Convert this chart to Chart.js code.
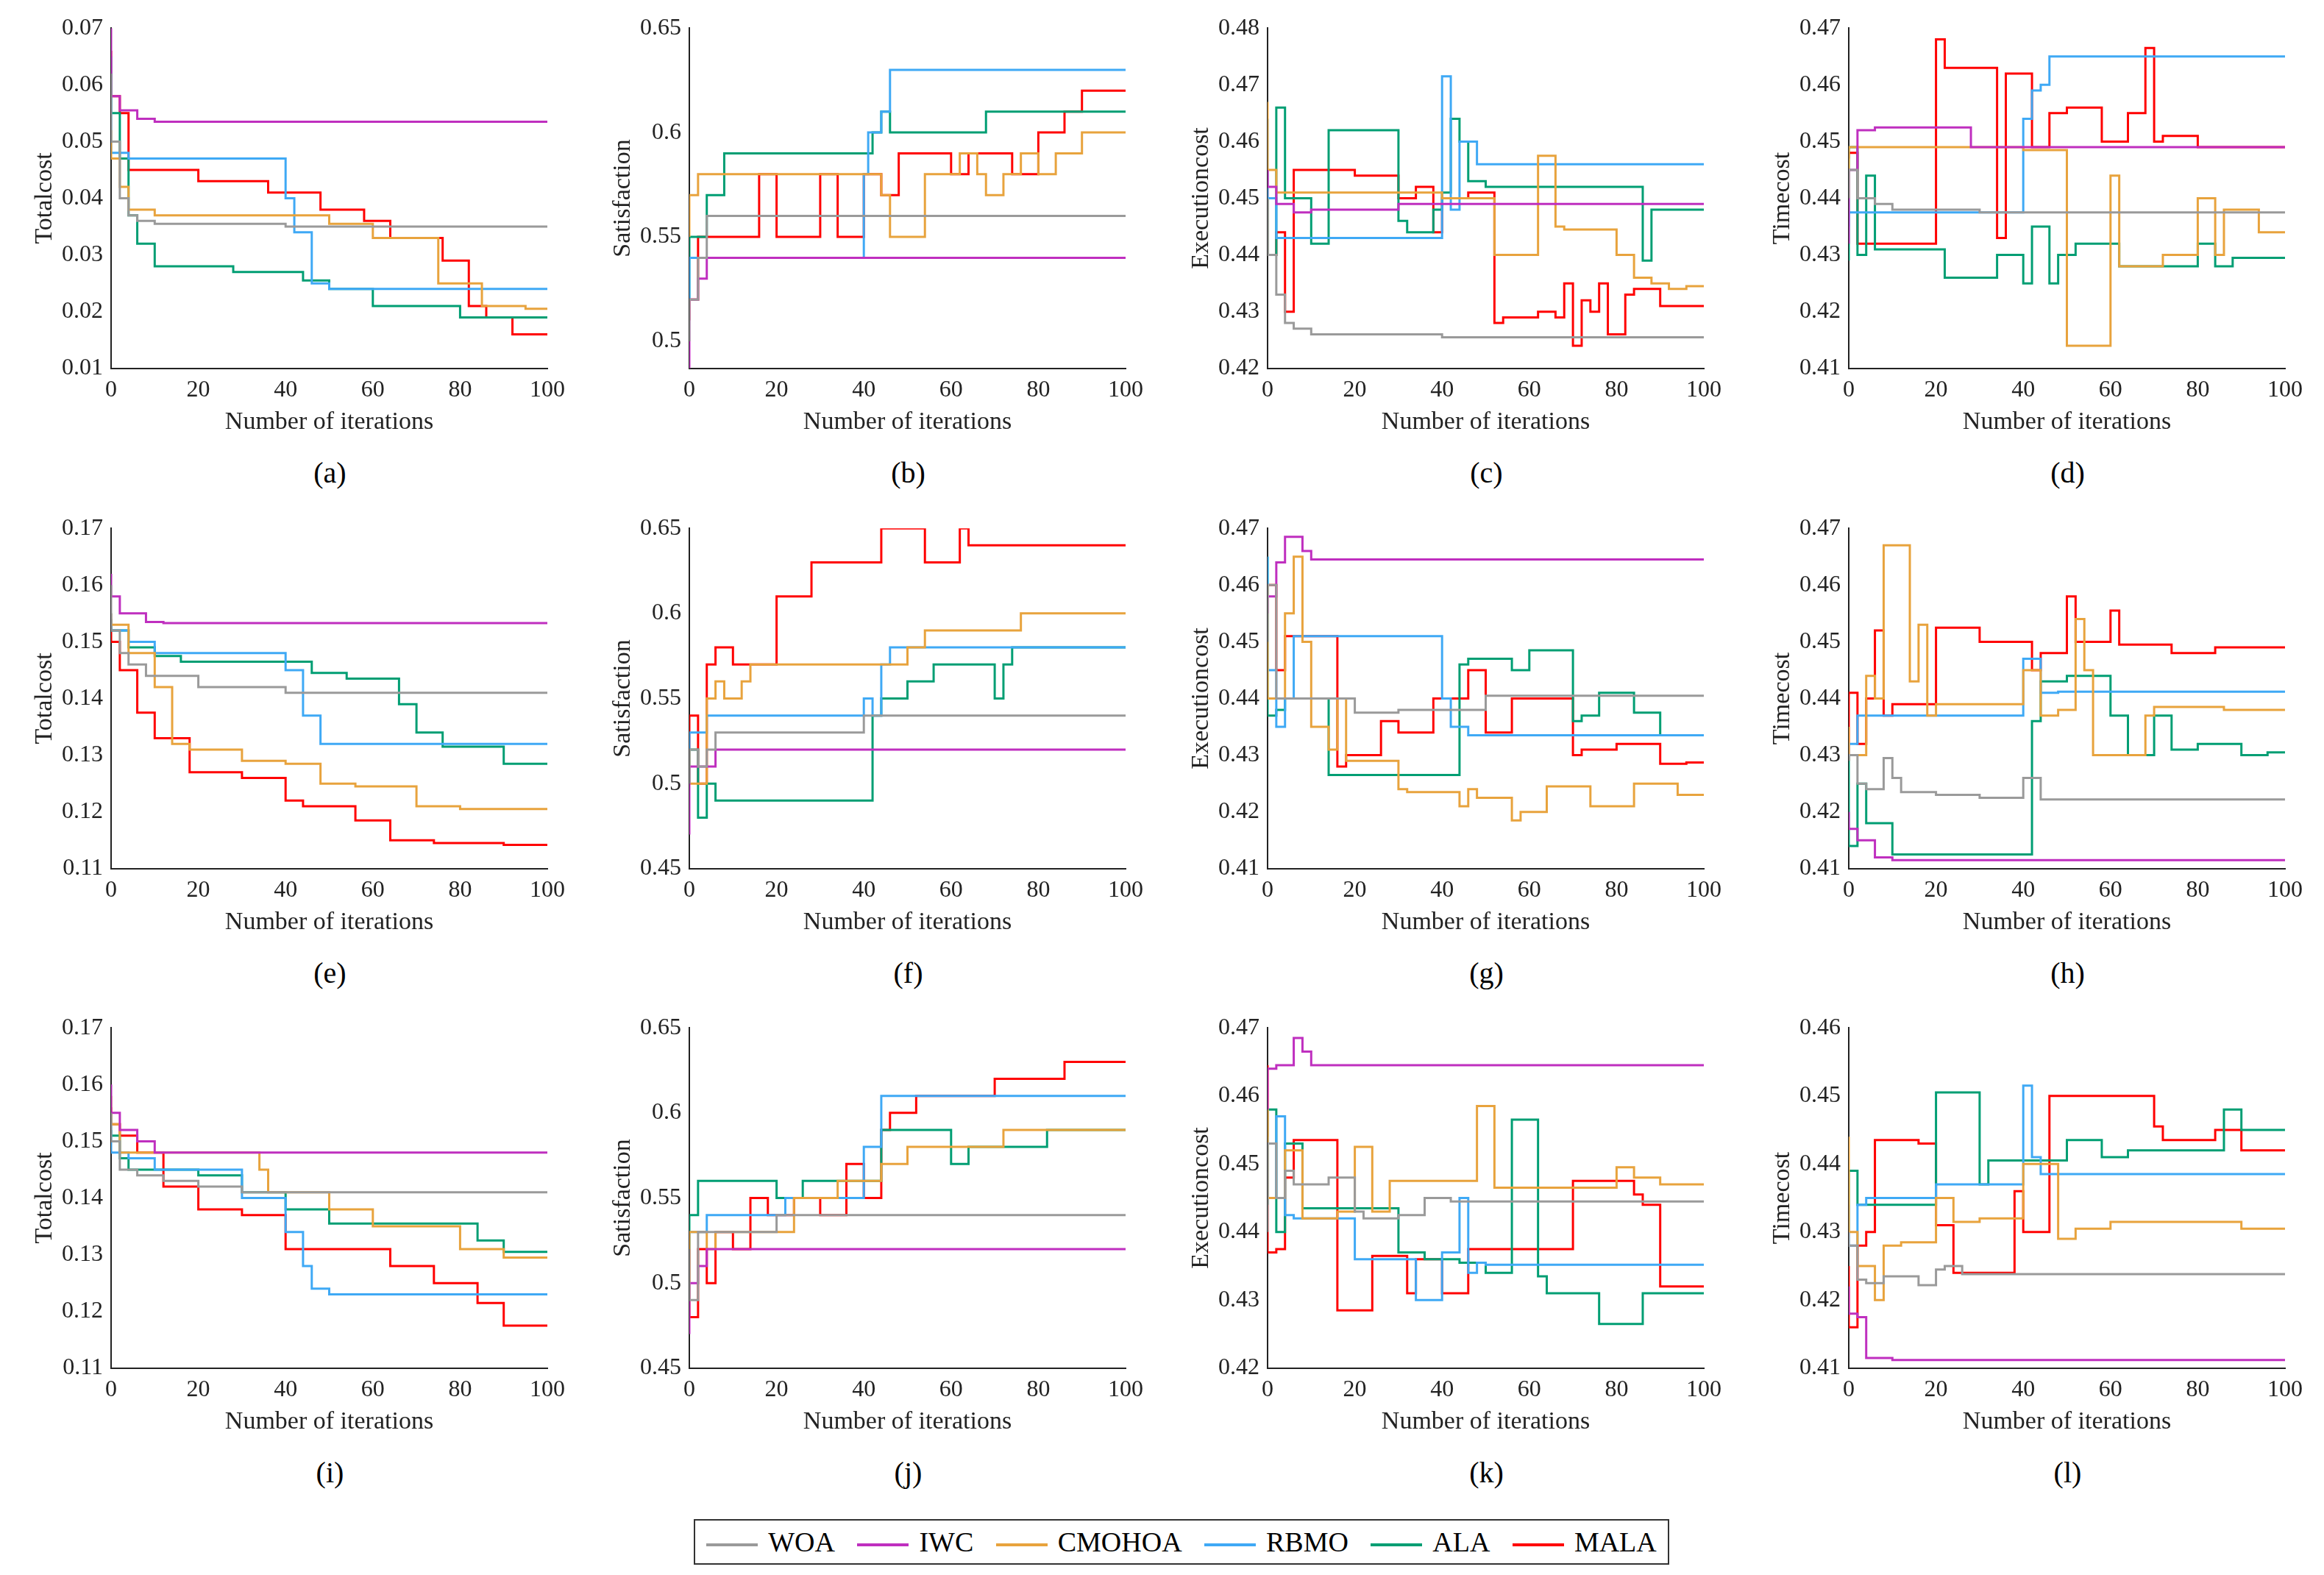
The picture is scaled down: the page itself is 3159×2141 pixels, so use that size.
<!DOCTYPE html>
<html>
<head>
<meta charset="utf-8">
<script src="https://cdn.jsdelivr.net/npm/chart.js@4"></script>
<style>
  body { margin: 0; background: #fff; font-family: "Liberation Serif", serif; }
  #page { position: relative; width: 3159px; height: 2141px; }
  .panel { position: absolute; width: 720px; height: 540px; }
  .lab { position: absolute; font-size: 40px; width: 200px; text-align: center; }
  #legend { position: absolute; left: 943px; top: 2065px; width: 1326px; height: 62px; border: 2px solid #333;
            display: flex; align-items: center; justify-content: space-around; font-size: 38px; box-sizing: border-box; }
  #legend span.sw { display: inline-block; width: 70px; height: 4px; vertical-align: middle; margin-right: 14px; }
</style>
</head>
<body>
<div id="page"></div>
<div id="legend"></div>
<script>
// Nombres de algoritmos y colores
const seriesNames = ['WOA', 'IWC', 'CMOHOA', 'RBMO', 'ALA', 'MALA'];
const seriesColors = ['#9a9a9a', '#bf2fbf', '#e8a33d', '#3fa9f5', '#009e73', '#ff0000'];
const panelLabels = ['(a)', '(b)', '(c)', '(d)', '(e)', '(f)', '(g)', '(h)', '(i)', '(j)', '(k)', '(l)'];
const yTitles = ['Totalcost', 'Satisfaction', 'Executioncost', 'Timecost'];
// [min, max, paso]
const yRanges = [
  [0.01, 0.07, 0.01], [0.487, 0.65, 0.05], [0.42, 0.48, 0.01], [0.41, 0.47, 0.01],
  [0.11, 0.17, 0.01], [0.45, 0.65, 0.05], [0.41, 0.47, 0.01], [0.41, 0.47, 0.01],
  [0.11, 0.17, 0.01], [0.45, 0.65, 0.05], [0.42, 0.47, 0.01], [0.41, 0.46, 0.01]
];

// Datos: pares x,y (iteración, valor) para WOA, IWC, CMOHOA, RBMO, ALA, MALA
const dataA = [
  [0,0.062, 2,0.05, 4,0.04, 6,0.037, 10,0.036, 40,0.0355, 50,0.035, 100,0.035],
  [0,0.07, 2,0.058, 6,0.0555, 10,0.054, 25,0.0535, 100,0.0535],
  [0,0.052, 2,0.047, 4,0.042, 10,0.038, 50,0.037, 60,0.0355, 75,0.033, 85,0.025, 95,0.021, 100,0.0205],
  [0,0.065, 4,0.048, 40,0.047, 42,0.04, 46,0.034, 50,0.025, 60,0.024, 100,0.024],
  [0,0.062, 2,0.055, 4,0.047, 6,0.037, 10,0.032, 28,0.028, 44,0.027, 50,0.0255, 60,0.024, 80,0.021, 88,0.019, 100,0.019],
  [0,0.066, 2,0.058, 4,0.055, 20,0.045, 36,0.043, 48,0.041, 58,0.038, 64,0.036, 76,0.033, 82,0.029, 86,0.021, 92,0.019, 96,0.016, 100,0.016]
];
const dataB = [
  [0,0.5, 2,0.52, 4,0.54, 6,0.56, 100,0.56],
  [0,0.487, 2,0.52, 4,0.53, 6,0.54, 100,0.54],
  [0,0.55, 2,0.57, 8,0.58, 44,0.58, 46,0.57, 54,0.55, 62,0.58, 66,0.59, 68,0.58, 72,0.57, 76,0.58, 80,0.59, 84,0.58, 90,0.59, 94,0.6, 100,0.6],
  [0,0.52, 2,0.54, 40,0.54, 41,0.58, 44,0.6, 46,0.61, 50,0.63, 100,0.63],
  [0,0.52, 4,0.55, 8,0.57, 12,0.59, 42,0.59, 44,0.6, 46,0.61, 48,0.6, 68,0.6, 70,0.61, 100,0.61],
  [0,0.51, 2,0.52, 16,0.55, 20,0.58, 30,0.55, 34,0.58, 40,0.55, 44,0.58, 48,0.57, 60,0.59, 64,0.58, 74,0.59, 80,0.58, 86,0.6, 90,0.61, 94,0.62, 100,0.62]
];
const dataC = [
  [0,0.45, 2,0.44, 4,0.433, 6,0.428, 10,0.427, 40,0.426, 42,0.4255, 100,0.4255],
  [0,0.455, 2,0.452, 6,0.449, 10,0.4475, 30,0.448, 32,0.449, 100,0.449],
  [0,0.467, 2,0.455, 6,0.451, 40,0.451, 42,0.45, 52,0.45, 54,0.44, 62,0.44, 64,0.4575, 66,0.4575, 68,0.445, 80,0.4445, 84,0.44, 88,0.436, 92,0.435, 96,0.434, 100,0.4345],
  [0,0.464, 2,0.45, 4,0.443, 40,0.443, 42,0.4715, 44,0.448, 48,0.46, 50,0.456, 100,0.456],
  [0,0.45, 2,0.44, 4,0.466, 6,0.45, 10,0.45, 14,0.442, 18,0.462, 30,0.462, 32,0.446, 38,0.444, 40,0.448, 42,0.451, 44,0.464, 46,0.46, 50,0.453, 86,0.452, 88,0.439, 92,0.448, 100,0.448],
  [0,0.455, 2,0.44, 4,0.444, 6,0.43, 20,0.455, 30,0.454, 34,0.45, 38,0.452, 40,0.444, 46,0.45, 52,0.451, 54,0.428, 62,0.429, 66,0.43, 68,0.429, 70,0.435, 72,0.424, 74,0.432, 76,0.43, 78,0.435, 82,0.426, 84,0.433, 90,0.434, 94,0.431, 100,0.431]
];
const dataD = [
  [0,0.44, 2,0.445, 6,0.44, 10,0.439, 30,0.438, 40,0.4375, 100,0.4375],
  [0,0.432, 2,0.445, 6,0.452, 10,0.4525, 28,0.4525, 30,0.449, 100,0.449],
  [0,0.44, 2,0.449, 40,0.449, 50,0.4485, 52,0.414, 60,0.414, 62,0.444, 64,0.428, 72,0.428, 80,0.43, 84,0.44, 86,0.43, 94,0.438, 96,0.434, 100,0.434],
  [0,0.435, 2,0.4375, 40,0.4375, 42,0.454, 44,0.459, 46,0.46, 48,0.465, 100,0.465],
  [0,0.429, 2,0.449, 4,0.43, 6,0.444, 8,0.431, 22,0.431, 24,0.426, 34,0.426, 36,0.43, 40,0.43, 42,0.425, 46,0.435, 48,0.425, 52,0.43, 62,0.432, 74,0.428, 80,0.428, 84,0.432, 88,0.428, 92,0.4295, 100,0.4295],
  [0,0.447, 2,0.448, 20,0.432, 22,0.468, 34,0.463, 36,0.433, 42,0.462, 46,0.449, 50,0.455, 58,0.456, 64,0.45, 68,0.455, 70,0.4665, 72,0.45, 80,0.451, 86,0.449, 100,0.449]
];
const dataE = [
  [0,0.16, 2,0.152, 4,0.148, 8,0.146, 20,0.144, 40,0.142, 48,0.141, 100,0.141],
  [0,0.162, 2,0.158, 8,0.155, 12,0.1535, 100,0.1533],
  [0,0.155, 4,0.153, 10,0.148, 14,0.142, 18,0.132, 30,0.131, 40,0.129, 48,0.1285, 56,0.125, 70,0.1245, 80,0.121, 100,0.1205],
  [0,0.155, 4,0.152, 10,0.15, 40,0.148, 44,0.145, 48,0.137, 52,0.132, 100,0.132],
  [0,0.154, 4,0.152, 10,0.149, 16,0.1475, 46,0.1465, 54,0.1445, 66,0.1435, 70,0.139, 76,0.134, 90,0.1315, 98,0.1285, 100,0.1285],
  [0,0.154, 2,0.15, 6,0.145, 10,0.1375, 18,0.133, 30,0.127, 40,0.126, 44,0.122, 56,0.121, 64,0.1185, 74,0.115, 90,0.1145, 100,0.1142]
];
const dataF = [
  [0,0.5, 2,0.52, 4,0.51, 6,0.52, 10,0.53, 40,0.53, 44,0.54, 100,0.54],
  [0,0.47, 2,0.51, 6,0.51, 8,0.52, 100,0.52],
  [0,0.52, 4,0.5, 6,0.55, 8,0.56, 12,0.55, 14,0.56, 18,0.57, 50,0.57, 54,0.58, 76,0.59, 90,0.6, 100,0.6],
  [0,0.51, 4,0.53, 8,0.54, 40,0.54, 42,0.55, 44,0.54, 46,0.57, 56,0.58, 100,0.58],
  [0,0.5, 2,0.52, 4,0.48, 6,0.5, 16,0.49, 42,0.49, 44,0.54, 50,0.55, 56,0.56, 70,0.57, 72,0.55, 74,0.57, 80,0.58, 100,0.58],
  [0,0.52, 2,0.54, 4,0.5, 6,0.57, 10,0.58, 20,0.57, 28,0.61, 44,0.63, 54,0.65, 62,0.63, 64,0.65, 74,0.64, 100,0.64]
];
const dataG = [
  [0,0.45, 2,0.46, 4,0.44, 20,0.44, 30,0.4375, 50,0.438, 56,0.4405, 100,0.4405],
  [0,0.455, 2,0.458, 4,0.464, 8,0.4685, 10,0.466, 14,0.4645, 100,0.4645],
  [0,0.46, 4,0.44, 6,0.455, 8,0.465, 10,0.45, 14,0.435, 16,0.431, 18,0.44, 20,0.429, 30,0.429, 32,0.424, 44,0.4235, 46,0.421, 48,0.424, 56,0.4225, 58,0.4185, 64,0.42, 66,0.4245, 74,0.4245, 76,0.421, 84,0.421, 86,0.425, 94,0.425, 96,0.423, 100,0.423],
  [0,0.465, 2,0.445, 4,0.435, 6,0.44, 8,0.451, 40,0.451, 42,0.44, 46,0.435, 48,0.4335, 100,0.4335],
  [0,0.465, 2,0.437, 4,0.438, 8,0.44, 14,0.44, 16,0.4265, 44,0.4265, 46,0.446, 56,0.447, 60,0.445, 70,0.4485, 72,0.436, 76,0.437, 84,0.441, 90,0.4375, 96,0.4335, 100,0.4335],
  [0,0.455, 2,0.46, 4,0.445, 6,0.451, 16,0.451, 18,0.428, 26,0.43, 30,0.436, 38,0.434, 42,0.44, 46,0.44, 50,0.445, 56,0.434, 60,0.44, 70,0.44, 72,0.43, 80,0.431, 90,0.432, 96,0.4285, 100,0.4287]
];
const dataH = [
  [0,0.429, 2,0.43, 4,0.425, 8,0.424, 10,0.4295, 12,0.426, 20,0.4235, 30,0.423, 40,0.4225, 44,0.426, 46,0.4222, 100,0.4222],
  [0,0.42, 2,0.417, 6,0.415, 10,0.412, 16,0.4115, 100,0.4115],
  [0,0.435, 4,0.43, 6,0.444, 8,0.44, 10,0.467, 14,0.467, 16,0.443, 18,0.453, 20,0.437, 40,0.439, 44,0.445, 48,0.437, 52,0.438, 54,0.454, 56,0.445, 58,0.43, 68,0.43, 70,0.437, 86,0.4385, 90,0.438, 100,0.438],
  [0,0.43, 2,0.432, 4,0.437, 40,0.437, 44,0.447, 48,0.441, 100,0.4412],
  [0,0.43, 2,0.414, 4,0.425, 10,0.418, 14,0.4125, 42,0.4125, 44,0.436, 50,0.443, 60,0.444, 64,0.437, 70,0.43, 74,0.437, 80,0.431, 90,0.432, 96,0.43, 100,0.4305],
  [0,0.429, 2,0.441, 4,0.432, 6,0.44, 8,0.452, 10,0.437, 20,0.439, 30,0.4525, 42,0.45, 44,0.445, 50,0.448, 52,0.458, 60,0.45, 62,0.4555, 74,0.4495, 84,0.448, 90,0.449, 100,0.449]
];
const dataI = [
  [0,0.155, 2,0.15, 6,0.145, 12,0.144, 20,0.143, 30,0.142, 50,0.141, 100,0.141],
  [0,0.16, 2,0.155, 6,0.152, 10,0.15, 16,0.148, 100,0.148],
  [0,0.158, 2,0.153, 10,0.148, 34,0.148, 36,0.145, 50,0.141, 60,0.138, 80,0.135, 90,0.131, 96,0.1295, 100,0.1295],
  [0,0.155, 4,0.148, 10,0.147, 30,0.145, 40,0.14, 44,0.134, 46,0.128, 50,0.124, 52,0.123, 100,0.123],
  [0,0.152, 2,0.151, 4,0.147, 20,0.145, 30,0.144, 40,0.141, 50,0.138, 60,0.1355, 84,0.1355, 90,0.1325, 94,0.1305, 100,0.1305],
  [0,0.156, 2,0.153, 6,0.151, 12,0.148, 20,0.142, 30,0.138, 40,0.137, 48,0.131, 64,0.131, 74,0.128, 84,0.125, 90,0.1215, 94,0.1175, 100,0.1175]
];
const dataJ = [
  [0,0.52, 2,0.49, 4,0.53, 20,0.53, 22,0.54, 100,0.54],
  [0,0.47, 2,0.5, 4,0.51, 6,0.52, 100,0.52],
  [0,0.5, 4,0.53, 6,0.52, 24,0.53, 34,0.55, 44,0.56, 50,0.57, 72,0.58, 90,0.59, 100,0.59],
  [0,0.52, 4,0.53, 22,0.54, 40,0.55, 44,0.58, 48,0.61, 100,0.61],
  [0,0.52, 2,0.54, 20,0.56, 26,0.55, 44,0.56, 60,0.59, 64,0.57, 82,0.58, 90,0.59, 100,0.59],
  [0,0.52, 2,0.48, 4,0.52, 6,0.5, 10,0.53, 14,0.52, 18,0.55, 24,0.54, 30,0.55, 36,0.54, 40,0.57, 44,0.55, 46,0.59, 52,0.6, 70,0.61, 86,0.62, 90,0.63, 100,0.63]
];
const dataK = [
  [0,0.44, 2,0.453, 4,0.445, 6,0.449, 14,0.447, 20,0.448, 22,0.443, 30,0.442, 36,0.4425, 42,0.445, 56,0.4445, 100,0.4445],
  [0,0.458, 2,0.464, 6,0.4645, 8,0.4685, 10,0.4665, 16,0.4645, 100,0.4645],
  [0,0.46, 4,0.445, 8,0.452, 16,0.442, 20,0.443, 24,0.4525, 28,0.443, 30,0.4475, 48,0.4475, 52,0.4585, 56,0.4465, 80,0.4465, 84,0.4495, 90,0.448, 100,0.447],
  [0,0.454, 2,0.445, 4,0.457, 6,0.4425, 20,0.442, 34,0.436, 40,0.43, 44,0.437, 46,0.445, 48,0.434, 50,0.4355, 100,0.4352],
  [0,0.444, 2,0.458, 4,0.44, 8,0.453, 10,0.4435, 30,0.4435, 36,0.437, 44,0.436, 50,0.4355, 56,0.434, 62,0.4565, 64,0.4335, 76,0.431, 80,0.4265, 86,0.4265, 88,0.431, 100,0.431],
  [0,0.4645, 2,0.437, 4,0.4375, 6,0.448, 10,0.4535, 16,0.4535, 20,0.4285, 24,0.4285, 26,0.4365, 32,0.4365, 34,0.431, 40,0.436, 46,0.431, 50,0.4375, 70,0.4375, 72,0.4475, 84,0.4475, 86,0.4455, 90,0.444, 96,0.432, 100,0.432]
];
const dataL = [
  [0,0.43, 2,0.428, 4,0.423, 8,0.4225, 16,0.4235, 20,0.4222, 22,0.4245, 26,0.425, 30,0.4238, 100,0.4238],
  [0,0.422, 2,0.418, 4,0.4175, 10,0.4115, 16,0.4112, 100,0.4112],
  [0,0.444, 2,0.43, 6,0.425, 8,0.42, 12,0.428, 20,0.4285, 24,0.435, 30,0.4315, 40,0.432, 48,0.44, 52,0.429, 60,0.4305, 90,0.4315, 100,0.4305],
  [0,0.434, 2,0.428, 4,0.434, 20,0.435, 40,0.437, 42,0.4515, 44,0.441, 48,0.4385, 100,0.4385],
  [0,0.43, 2,0.439, 4,0.434, 20,0.434, 22,0.4505, 30,0.4505, 32,0.437, 50,0.4405, 58,0.4435, 64,0.441, 86,0.442, 90,0.448, 94,0.445, 100,0.445],
  [0,0.425, 2,0.416, 4,0.428, 6,0.43, 16,0.4435, 20,0.443, 24,0.431, 30,0.424, 38,0.424, 40,0.436, 46,0.43, 48,0.45, 70,0.45, 72,0.4455, 84,0.4435, 90,0.445, 100,0.442]
];
const allData = [dataA, dataB, dataC, dataD, dataE, dataF, dataG, dataH, dataI, dataJ, dataK, dataL];

// Posiciones de las áreas de trazado
const colLeft = [151, 937, 1723, 2513];
const rowTop = [36, 716, 1395];
const plotW = 595, plotH = 458;
const yAxisW = 110;

function toPoints(flat) {
  const pts = [];
  for (let i = 0; i < flat.length; i += 2) pts.push({ x: flat[i], y: flat[i + 1] });
  return pts;
}

Chart.defaults.font.family = "'Liberation Serif', serif";
const page = document.getElementById('page');
const fontTick = { family: "'Liberation Serif', serif", size: 32 };
const fontTitle = { family: "'Liberation Serif', serif", size: 34 };

allData.forEach((panel, idx) => {
  const r = Math.floor(idx / 4), c = idx % 4;
  const [ymin, ymax, step] = yRanges[idx];
  const div = document.createElement('div');
  div.className = 'panel';
  div.style.left = (colLeft[c] - yAxisW) + 'px';
  div.style.top = (rowTop[r] - 20) + 'px';
  div.style.width = (yAxisW + plotW + 25) + 'px';
  div.style.height = (plotH + 20 + 100) + 'px';
  const cv = document.createElement('canvas');
  div.appendChild(cv);
  page.appendChild(div);

  const lab = document.createElement('div');
  lab.className = 'lab';
  lab.textContent = panelLabels[idx];
  lab.style.left = (colLeft[c] + plotW / 2 - 100) + 'px';
  lab.style.top = (rowTop[r] + 583) + 'px';
  page.appendChild(lab);

  new Chart(cv, {
    type: 'line',
    data: {
      datasets: panel.map((flat, k) => ({
        label: seriesNames[k],
        data: toPoints(flat),
        borderColor: seriesColors[k],
        borderWidth: 3,
        pointRadius: 0,
        stepped: 'after',
        fill: false
      }))
    },
    options: {
      responsive: true,
      maintainAspectRatio: false,
      animation: false,
      layout: { padding: { top: 20, right: 25, left: 0, bottom: 0 } },
      plugins: { legend: { display: false }, tooltip: { enabled: false } },
      scales: {
        x: {
          type: 'linear', min: 0, max: 100,
          ticks: { stepSize: 20, color: '#222', font: fontTick, maxRotation: 0 },
          grid: { display: false },
          border: { color: '#222', width: 2 },
          title: { display: true, text: 'Number of iterations', color: '#222', font: fontTitle, padding: 0 }
        },
        y: {
          min: ymin, max: ymax,
          afterBuildTicks: s => {
            const t = [];
            const start = Math.ceil(ymin / step - 1e-6) * step;
            for (let v = start; v <= ymax + 1e-9; v += step) t.push({ value: +v.toFixed(4) });
            s.ticks = t;
          },
          afterFit: s => { s.width = yAxisW; },
          ticks: { color: '#222', font: fontTick, callback: v => String(+v.toFixed(3)) },
          grid: { display: false },
          border: { color: '#222', width: 2 },
          title: { display: true, text: yTitles[c], color: '#222', font: fontTitle, padding: 0 }
        }
      }
    }
  });
});

// Leyenda
const legend = document.getElementById('legend');
seriesNames.forEach((n, k) => {
  const item = document.createElement('div');
  item.innerHTML = '<span class="sw" style="background:' + seriesColors[k] + '"></span>' + n;
  legend.appendChild(item);
});
</script>
</body>
</html>
